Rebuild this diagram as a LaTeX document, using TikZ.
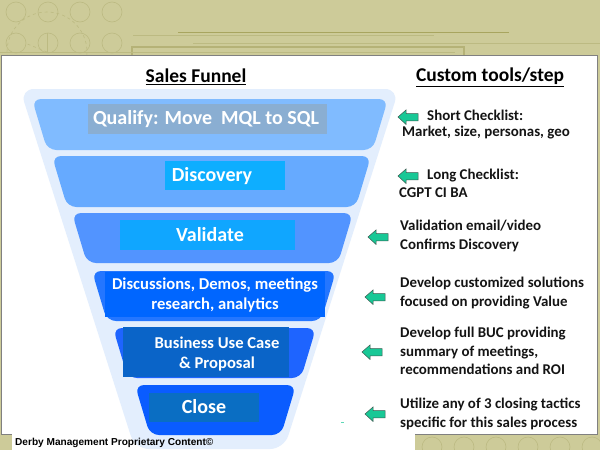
\documentclass[tikz,border=0pt]{standalone}
\usepackage{fontspec}
\setmainfont{Carlito}
\newfontfamily\arialfont{Liberation Sans}
\definecolor{khaki}{RGB}{205,203,153}
\definecolor{khakiline}{RGB}{188,186,130}
\definecolor{khakidark}{RGB}{168,165,95}
\definecolor{panelborder}{RGB}{128,128,128}
\definecolor{funnelout}{RGB}{227,238,253}
\definecolor{bandA}{RGB}{128,187,255}
\definecolor{bandB}{RGB}{102,170,255}
\definecolor{bandC}{RGB}{82,148,255}
\definecolor{bandD}{RGB}{36,118,255}
\definecolor{bandE}{RGB}{30,100,255}
\definecolor{bandF}{RGB}{10,92,255}
\definecolor{boxA}{RGB}{138,174,210}
\definecolor{boxB}{RGB}{14,174,255}
\definecolor{boxC}{RGB}{16,166,255}
\definecolor{boxD}{RGB}{0,102,255}
\definecolor{boxE}{RGB}{10,100,200}
\definecolor{boxF}{RGB}{10,110,195}
\definecolor{arrowgreen}{RGB}{24,200,150}
\definecolor{arrowedge}{RGB}{60,90,80}
\tikzset{
  bandtext/.style={text=white,font=\bfseries\fontsize{20}{22}\selectfont,align=center,inner sep=0pt},
  bandtextsm/.style={text=white,font=\bfseries\fontsize{16.6}{20}\selectfont,align=center,inner sep=0pt},
  tooltext/.style={text=black!92,font=\bfseries\fontsize{14.9}{18.2}\selectfont,align=left,anchor=west,inner sep=0pt},
  headtext/.style={text=black,font=\bfseries\fontsize{19.5}{22}\selectfont,inner sep=0pt},
  deco/.style={draw=khakiline,line width=0.6pt},
  greenarrow/.style={fill=arrowgreen,draw=arrowedge,line width=0.5pt,line join=miter}
}
\newcommand\funnelband[5]{% top y, height, left top x, right top x, colour
  \fill[#5,rounded corners=9pt] (#3,#1) -- (#4,#1) -- ({#4-0.3*#2},{#1+#2}) -- ({#3+0.3*#2},{#1+#2}) -- cycle;}
\newcommand\toolarrow[2]{% tip x, y
  \filldraw[greenarrow] (#1,#2) -- ++(8,-7) -- ++(0,3.6) -- ++(12,0) -- ++(0,7.2) -- ++(-12,0) -- ++(0,3.6) -- cycle;}
\begin{document}
\begin{tikzpicture}[x=1pt,y=-1pt]
\useasboundingbox (0,0) rectangle (600,450);
% background
\fill[khaki] (0,0) rectangle (600,450);
\foreach \cx in {16,48,80,112}{
  \draw[deco] (\cx,12) circle (10);
  \draw[deco] (\cx,43) circle (10);
}
\draw[deco,dashed] (47,52) circle (40);
\draw[deco,dashed] (47,52) -- (25,43);
\draw[deco] (47,33) -- (47,52);
\draw[khakidark,line width=1pt] (178,32) -- (509,32);
\draw[deco] (133,35) -- (434,35);
\draw[deco] (193,43) -- (600,43);
\draw[khakidark!85,line width=1.3pt] (132,56) -- (132,47) -- (464,47) -- (464,56);
\draw[deco] (0,52) -- (455,52);
\foreach \cx in {432,464,496,528,560,592}{
  \draw[deco] (\cx,447) circle (10);
}
% white panel
\filldraw[fill=white,draw=panelborder,line width=0.8pt] (1,55) rectangle (597,434);
\fill[white] (12,433) rectangle (415,450);
% headers
\node[headtext] (hfunnel) at (196,77) {\underline{Sales Funnel}};
\node[headtext] (htools) at (490,77) {\underline{Custom tools/step}};
% funnel outline
\fill[funnelout,rounded corners=14pt] (20,89) -- (399,89) -- (284,449) -- (135,449) -- cycle;
% bands
\funnelband{99}{51}{32}{388}{bandA}
\funnelband{156}{51}{52}{371}{bandB}
\funnelband{213}{50}{72}{353}{bandC}
\funnelband{271}{50}{92}{336}{bandD}
\funnelband{328}{50}{113}{316}{bandE}
\funnelband{385}{50}{135}{296}{bandF}
% label boxes
\fill[boxA] (88,104) rectangle (327,134);
\fill[boxB] (165,161) rectangle (285,190);
\fill[boxC] (120,220) rectangle (295,250);
\fill[boxD] (105,272) rectangle (325,317);
\fill[boxE] (123,327) rectangle (289,377);
\fill[boxF] (149,393) rectangle (259,422);
% labels
\node[bandtext] (qualify) at (206,119) {Qualify: Move\ \ MQL to SQL};
\node[bandtext] (discovery) at (212,176) {Discovery};
\node[bandtext] (validate) at (210,235) {Validate};
\node[bandtextsm] (discussions) at (215,294.5) {Discussions, Demos, meetings\\research, analytics};
\node[bandtextsm] (business) at (217,353.5) {Business Use Case\\\& Proposal};
\node[bandtext] (close) at (204,407) {Close};
% tools
\toolarrow{398}{117}
\toolarrow{398}{176}
\toolarrow{368}{237}
\toolarrow{365}{297}
\toolarrow{362}{352}
\toolarrow{365}{414}
\node[tooltext] (t1a) at (427,115) {Short Checklist:};
\node[tooltext] (t1b) at (402,133) {Market, size, personas, geo};
\node[tooltext] (t2a) at (427,176) {Long Checklist:};
\node[tooltext] (t2b) at (399,193) {CGPT CI BA};
\node[tooltext] (t3) at (400,236) {Validation email/video\\Confirms Discovery};
\node[tooltext] (t4) at (400,293) {Develop customized solutions\\focused on providing Value};
\node[tooltext] (t5) at (400,351) {Develop full BUC providing\\summary of meetings,\\recommendations and ROI};
\node[tooltext] (t6) at (400,414) {Utilize any of 3 closing tactics\\specific for this sales process};
\fill[arrowgreen!70] (341,421.5) rectangle (344,422.5);
% footer
\node[anchor=west,inner sep=0pt,font=\arialfont\bfseries\fontsize{10.1}{12}\selectfont] (footer) at (15,443) {Derby Management Proprietary Content©};
\end{tikzpicture}
\end{document}
